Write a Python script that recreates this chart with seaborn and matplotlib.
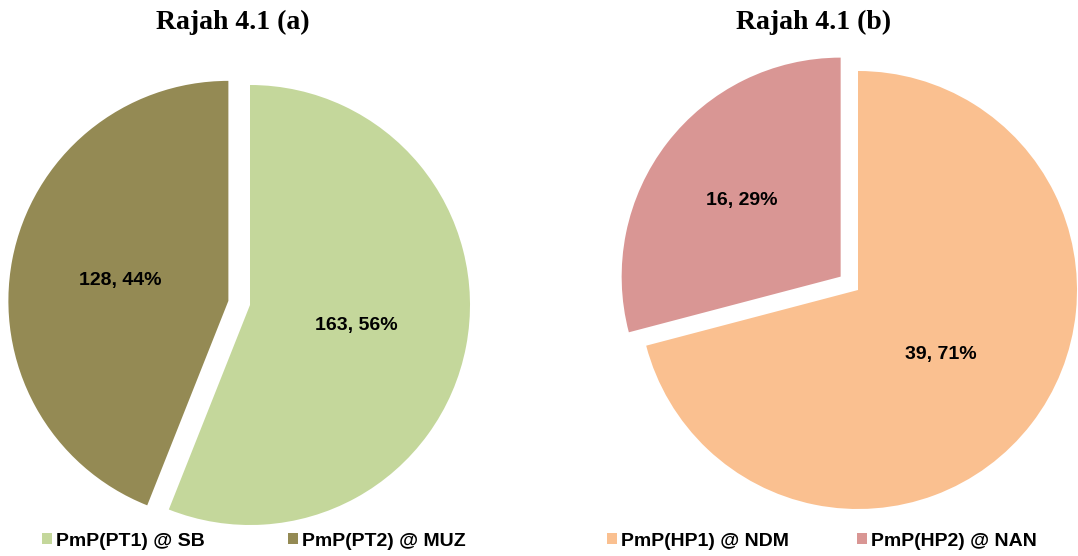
import seaborn as sns
import matplotlib.pyplot as plt

sns.set_theme(style="white")
plt.rcParams['font.family'] = ['Liberation Sans', 'DejaVu Sans']
plt.rcParams['text.color'] = 'black'

# data
labels_a = ["PmP(PT1) @ SB", "PmP(PT2) @ MUZ"]
values_a = [163, 128]
colors_a = ["#C4D79B", "#948A54"]

labels_b = ["PmP(HP1) @ NDM", "PmP(HP2) @ NAN"]
values_b = [39, 16]
colors_b = ["#FAC090", "#D99694"]

titles = ["Rajah 4.1 (a)", "Rajah 4.1 (b)"]

W, H = 1078, 556
fig = plt.figure(figsize=(W / 100, H / 100), dpi=100)


def pie_axes(rect, cx, cy, r):
    # rect and centre in pixels (top-left origin), r in pixels
    x0, y0, w, h = rect
    ax = fig.add_axes([x0 / W, 1 - (y0 + h) / H, w / W, h / H])
    return ax, ((x0 - cx) / r, (x0 + w - cx) / r), ((cy - y0 - h) / r, (cy - y0) / r)


def draw(ax, xl, yl, values, colors, pct_dist):
    total = sum(values)
    wedges, texts, autos = ax.pie(
        values, colors=colors, startangle=90, counterclock=False,
        explode=[0, 0.1], autopct=lambda p: f"{round(p * total / 100)}, {p:.0f}%",
        pctdistance=0.5, textprops=dict(fontsize=14, fontweight="bold", color="black"),
        wedgeprops=dict(linewidth=0))
    # nudge label positions a bit like the original
    for t, d in zip(autos, pct_dist):
        x, y = t.get_position()
        t.set_position((x * d / 0.5, y * d / 0.5))
    ax.set_xlim(*xl)
    ax.set_ylim(*yl)
    ax.set_aspect("auto")
    ax.axis("off")
    return wedges


ax1, xl1, yl1 = pie_axes((0, 50, 540, 480), 250, 305, 220)
w1 = draw(ax1, xl1, yl1, values_a, colors_a, [0.49, 0.5])
ax2, xl2, yl2 = pie_axes((540, 40, 538, 490), 858, 290, 219)
w2 = draw(ax2, xl2, yl2, values_b, colors_b, [0.48, 0.56])

fig.text(233 / W, 1 - 22 / H, titles[0], ha="center", va="center", color="black",
         fontsize=20, fontweight="bold", family="Liberation Serif")
fig.text(814 / W, 1 - 22 / H, titles[1], ha="center", va="center", color="black",
         fontsize=20, fontweight="bold", family="Liberation Serif")

leg_kw = dict(ncol=2, frameon=False, loc="center left", borderpad=0, borderaxespad=0,
              handlelength=0.52, handleheight=0.52, handletextpad=0.2,
              labelcolor="black", prop=dict(size=14, weight="bold"))
fig.legend(w1, labels_a, bbox_to_anchor=(42 / W, 1 - 541 / H), columnspacing=4.3, **leg_kw)
fig.legend(w2, labels_b, bbox_to_anchor=(607 / W, 1 - 541 / H), columnspacing=3.5, **leg_kw)

fig.savefig("out.png", dpi=100, facecolor="white")
